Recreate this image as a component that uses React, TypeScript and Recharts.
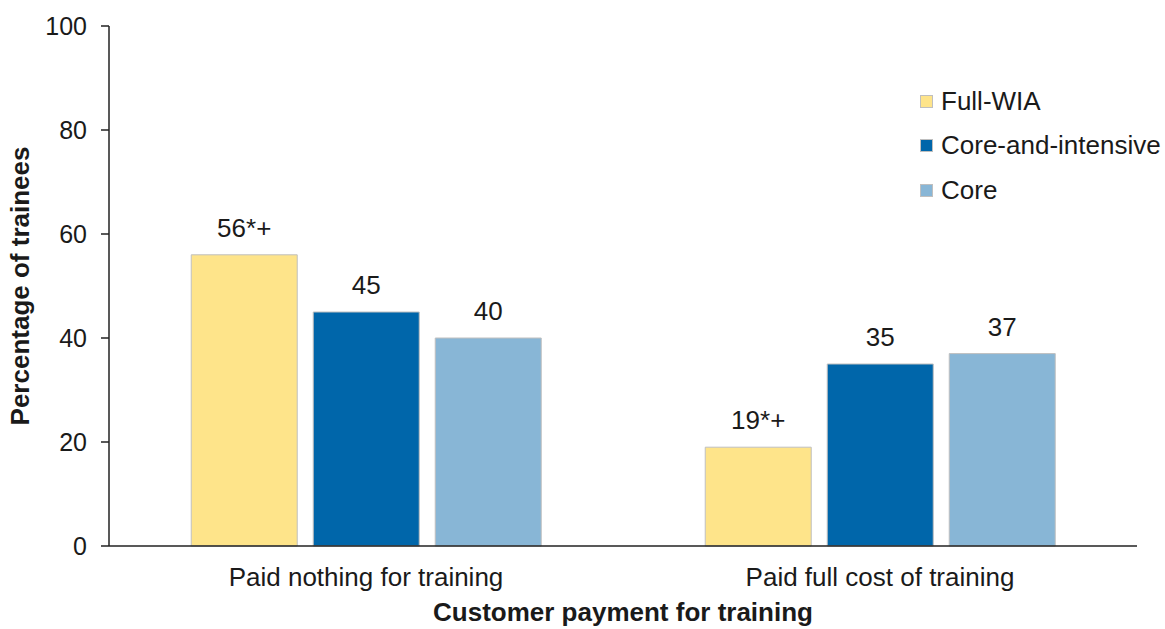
import { BarChart, Bar, XAxis, YAxis, Legend, LabelList } from 'recharts'

const CATEGORIES = ['Paid nothing for training', 'Paid full cost of training']
const FULL_WIA = [56, 19]
const CORE_INTENSIVE = [45, 35]
const CORE = [40, 37]
const FULL_WIA_LABELS = ['56*+', '19*+']
const CORE_INTENSIVE_LABELS = ['45', '35']
const CORE_LABELS = ['40', '37']
const Y_TICKS = [0, 20, 40, 60, 80, 100]

const SERIES = [
  { key: 'fullWia', name: 'Full-WIA', color: '#FEE48A', labels: 'fullWiaLabel' },
  { key: 'coreIntensive', name: 'Core-and-intensive', color: '#0066AA', labels: 'coreIntensiveLabel' },
  { key: 'core', name: 'Core', color: '#88B6D6', labels: 'coreLabel' },
]

const data = CATEGORIES.map((category, i) => ({
  category,
  fullWia: FULL_WIA[i],
  coreIntensive: CORE_INTENSIVE[i],
  core: CORE[i],
  fullWiaLabel: FULL_WIA_LABELS[i],
  coreIntensiveLabel: CORE_INTENSIVE_LABELS[i],
  coreLabel: CORE_LABELS[i],
}))

const FONT = '"Liberation Sans", Arial, sans-serif'
const TEXT = '#1a1a1a'

// legend drawn by hand so the rows sit like the original
function LegendContent() {
  return (
    <div style={{ fontFamily: FONT, fontSize: 26, color: TEXT }}>
      {SERIES.map((s) => (
        <div key={s.key} style={{ display: 'flex', alignItems: 'center', height: 44.5 }}>
          <span
            style={{
              display: 'inline-block',
              width: 13,
              height: 13,
              background: s.color,
              border: '1px solid #BFBFBF',
              boxSizing: 'border-box',
              marginRight: 8,
            }}
          />
          <span>{s.name}</span>
        </div>
      ))}
    </div>
  )
}

export default function App() {
  return (
    <div style={{ position: 'absolute', left: 0, top: 0, background: '#fff' }}>
      <BarChart
        width={1165}
        height={629}
        data={data}
        margin={{ top: 26, right: 28, bottom: 0, left: 0 }}
        barCategoryGap="16%"
        barGap={16}
      >
        <XAxis
          dataKey="category"
          height={83}
          axisLine={{ stroke: '#222', strokeWidth: 1.5 }}
          tickLine={false}
          tick={{ fill: TEXT, fontSize: 26, fontFamily: FONT }}
          tickMargin={16}
          label={{
            value: 'Customer payment for training',
            position: 'insideBottom',
            offset: 8,
            style: { fill: TEXT, fontSize: 26, fontWeight: 'bold', fontFamily: FONT },
          }}
        />
        <YAxis
          width={109}
          domain={[0, 100]}
          ticks={Y_TICKS}
          interval={0}
          axisLine={{ stroke: '#222', strokeWidth: 1.5 }}
          tickLine={{ stroke: '#222', strokeWidth: 1.5 }}
          tickSize={8}
          tickMargin={14}
          tick={{ fill: TEXT, fontSize: 25, fontFamily: FONT }}
          label={{
            value: 'Percentage of trainees',
            angle: -90,
            position: 'insideLeft',
            offset: 20,
            style: { fill: TEXT, fontSize: 26, fontWeight: 'bold', fontFamily: FONT, textAnchor: 'middle' },
          }}
        />
        <Legend
          layout="vertical"
          verticalAlign="middle"
          align="center"
          content={<LegendContent />}
          wrapperStyle={{ top: 79, left: 920, width: 245 }}
        />
        {SERIES.map((s) => (
          <Bar
            key={s.key}
            dataKey={s.key}
            name={s.name}
            fill={s.color}
            stroke="#BFBFBF"
            strokeWidth={1}
            isAnimationActive={false}
          >
            <LabelList
              dataKey={s.labels}
              position="top"
              offset={18}
              style={{ fill: TEXT, fontSize: 26, fontFamily: FONT }}
            />
          </Bar>
        ))}
      </BarChart>
    </div>
  )
}
